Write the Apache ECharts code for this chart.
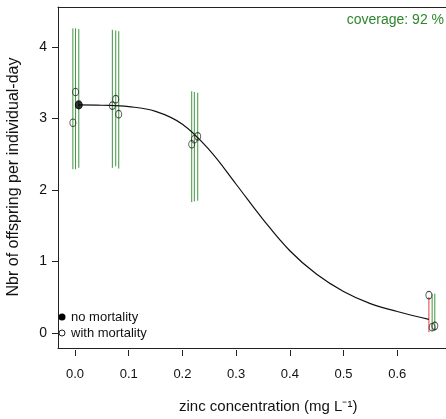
<!DOCTYPE html>
<html><head><meta charset="utf-8">
<script src="https://cdn.jsdelivr.net/npm/echarts@6/dist/echarts.min.js"></script>
<style>html,body{margin:0;padding:0;background:#fff}#c{width:446px;height:419px}</style>
</head><body><div id="c"></div>
<script>
// observed values (jittered concentration, offspring per individual-day)
const obsX = [-0.004, 0.001, 0.007, 0.0695, 0.0758, 0.0814, 0.2173, 0.2222, 0.2285, 0.659, 0.665, 0.670];
const obsY = [2.94, 3.37, 3.19, 3.18, 3.27, 3.06, 2.64, 2.71, 2.75, 0.53, 0.08, 0.10];
const noMortality = [false, false, true, false, false, false, false, false, false, false, false, false];
// posterior predictive interval bounds
const predLow  = [2.29, 2.29, 2.31, 2.31, 2.33, 2.30, 1.83, 1.84, 1.85, 0.01, 0.03, 0.03];
const predHigh = [4.26, 4.26, 4.25, 4.24, 4.23, 4.22, 3.38, 3.37, 3.36, 0.50, 0.55, 0.55];
// fitted curve
const curveX = [0.007, 0.05, 0.1, 0.15, 0.2, 0.25, 0.3, 0.35, 0.4, 0.45, 0.5, 0.55, 0.6, 0.659];
const curveY = [3.19, 3.185, 3.165, 3.10, 2.92, 2.56, 2.08, 1.59, 1.15, 0.82, 0.58, 0.41, 0.30, 0.19];
const xTicks = [0, 0.1, 0.2, 0.3, 0.4, 0.5, 0.6];
const yTicks = [0, 1, 2, 3, 4];
const coverageText = 'coverage: 92 %';
const legendNames = ['no mortality', 'with mortality'];

const FONT = '"Liberation Sans", Arial, sans-serif';
const GREEN = '#3f963f', RED = '#ee3b3b';
const XMIN = -0.0317, XMAX = 0.7616, YMIN = -0.21, YMAX = 4.559;

const greenData = [], redData = [];
obsX.forEach((x, i) => {
  const inside = obsY[i] >= predLow[i] && obsY[i] <= predHigh[i];
  (inside ? greenData : redData).push([x, predLow[i]], [x, predHigh[i]], '-');
});
const filled = [], open = [];
obsX.forEach((x, i) => (noMortality[i] ? filled : open).push([x, obsY[i]]));

const lineOnly = (pos) => ({
  type: 'value', min: XMIN, max: XMAX, position: pos,
  axisLine: {show: true, onZero: false, lineStyle: {color: '#222', width: 1}},
  axisTick: {show: false}, axisLabel: {show: false}, splitLine: {show: false}
});

const chart = echarts.init(document.getElementById('c'), null, {renderer: 'canvas'});
chart.setOption({
  animation: false,
  backgroundColor: '#fff',
  grid: {left: 58, top: 7, width: 426, height: 341, show: false, outerBoundsMode: 'none', containLabel: false},
  xAxis: [
    {
      type: 'value', min: XMIN, max: XMAX, position: 'bottom', offset: 2,
      axisLine: {show: false, onZero: false}, splitLine: {show: false},
      axisTick: {show: true, length: 6, customValues: xTicks, lineStyle: {color: '#222'}},
      axisLabel: {customValues: xTicks, formatter: v => v.toFixed(1), margin: 18, fontSize: 13, color: '#111', fontFamily: FONT}
    },
    lineOnly('bottom'),
    lineOnly('top')
  ],
  yAxis: {
    type: 'value', min: YMIN, max: YMAX,
    axisLine: {show: true, onZero: false, lineStyle: {color: '#222', width: 1}}, splitLine: {show: false},
    axisTick: {show: true, length: 6, customValues: yTicks, lineStyle: {color: '#222'}},
    axisLabel: {customValues: yTicks, formatter: v => String(v), margin: 11, fontSize: 14, color: '#111', fontFamily: FONT}
  },
  graphic: [
    {type: 'rect', z: 100, shape: {x: 441.5, y: 30, width: 6, height: 316}, style: {fill: '#fff'}, silent: true},
    {type: 'text', z: 101, x: 444, y: 13, style: {text: coverageText, fill: '#2d862d', font: '14px ' + FONT, align: 'right'}},
    {type: 'text', x: 179, y: 399, style: {text: 'zinc concentration (mg L\u207B\u00B9)', fill: '#111', font: '15px ' + FONT}},
    {type: 'text', x: 6, y: 177, rotation: Math.PI / 2, style: {text: 'Nbr of offspring per individual-day', fill: '#111', font: '16px ' + FONT, verticalAlign: 'top', align: 'center'}},
    {type: 'circle', shape: {cx: 62, cy: 317, r: 3.5}, style: {fill: '#000'}},
    {type: 'text', x: 71, y: 317, style: {text: legendNames[0], fill: '#111', font: '13px ' + FONT, verticalAlign: 'middle'}},
    {type: 'circle', shape: {cx: 62, cy: 333, r: 3}, style: {fill: 'none', stroke: '#222', lineWidth: 1}},
    {type: 'text', x: 71, y: 333, style: {text: legendNames[1], fill: '#111', font: '13px ' + FONT, verticalAlign: 'middle'}}
  ],
  series: [
    {type: 'line', data: greenData, symbol: 'none', lineStyle: {color: GREEN, width: 1}, connectNulls: false, silent: true, z: 2},
    {type: 'line', data: redData, symbol: 'none', lineStyle: {color: RED, width: 1}, connectNulls: false, silent: true, z: 2},
    {type: 'line', data: curveX.map((x, i) => [x, curveY[i]]), symbol: 'none', smooth: 0.4, lineStyle: {color: '#111', width: 1.2}, z: 3},
    {name: legendNames[0], type: 'scatter', data: filled, symbol: 'circle', symbolSize: [7, 8], itemStyle: {color: '#000', borderColor: '#000', borderWidth: 1}, z: 4},
    {name: legendNames[1], type: 'scatter', data: open, symbol: 'circle', symbolSize: [6, 7.5], itemStyle: {color: 'rgba(255,255,255,0)', borderColor: '#222', borderWidth: 1}, z: 4}
  ]
});
</script></body></html>
